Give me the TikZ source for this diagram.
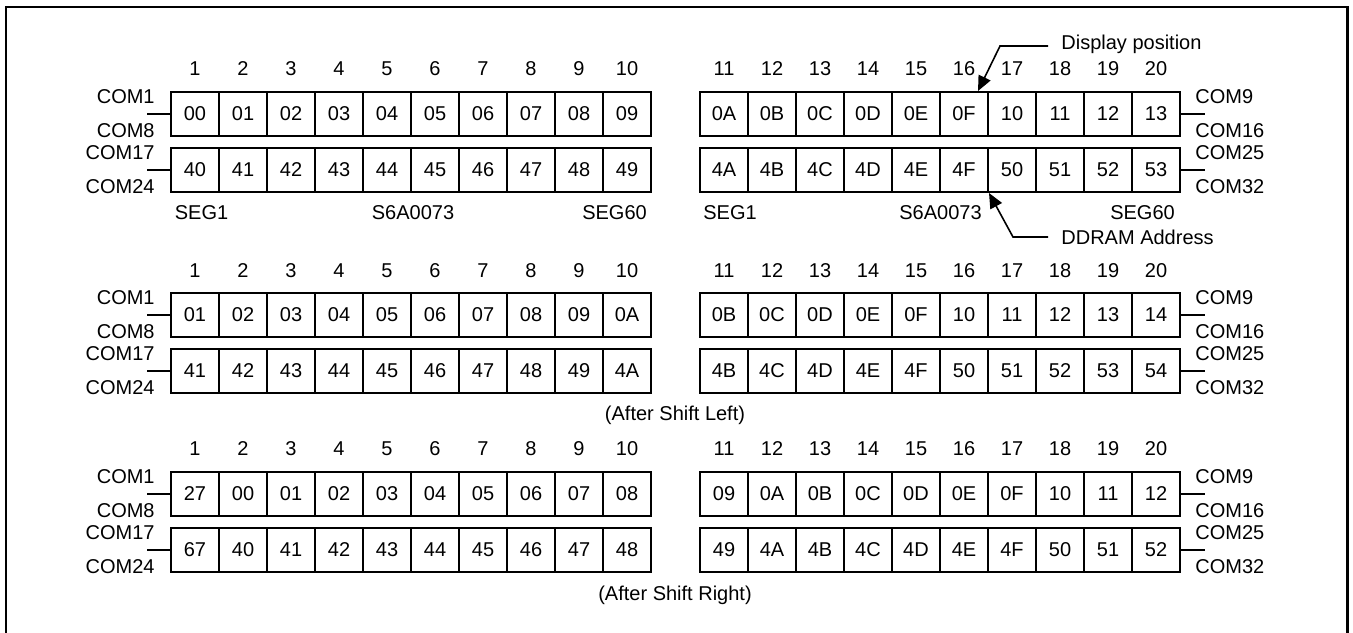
\documentclass[tikz,border=0pt]{standalone}
\usepackage{fontspec}
\setmainfont{Liberation Sans}
\usepackage{tikz}
\usetikzlibrary{arrows.meta,calc}

% one row of DDRAM cells: name, y, values, COM labels (top left, bottom left, top right, bottom right)
\newcommand{\ramrow}[7]{%
  \foreach \v [count=\c] in {#3} {
    \pgfmathsetmacro{\cx}{\c<11 ? 147+48*\c : 196+48*\c}
    \node[cell] (#1-\c) at (\cx,#2) {\v};
  }
  \coordinate (#1-l) at (147,#2);
  \coordinate (#1-r) at (1205,#2);
  \draw[stub] (#1-1.west) -- (#1-l);
  \draw[stub] (#1-20.east) -- (#1-r);
  \node[com, anchor=east] (#1-tl) at (155,#2-17) {#4};
  \node[com, anchor=east] (#1-bl) at (155,#2+16.5) {#5};
  \node[com, anchor=west] (#1-tr) at (1195,#2-17) {#6};
  \node[com, anchor=west] (#1-br) at (1195,#2+16.5) {#7};
}

\begin{document}
\begin{tikzpicture}[
    x=0.5pt, y=-0.5pt,
    every node/.append style={font=\fontsize{10pt}{12pt}\selectfont},
    cell/.style={rectangle, draw, line width=1pt, minimum width=24pt, minimum height=22pt, inner sep=0pt},
    stub/.style={line width=1.4pt},
    com/.style={inner sep=0pt},
    frame/.style={line width=1.2pt},
    callout/.style={anchor=west, inner xsep=6.5pt, text depth=0pt},
    ptr/.style={-{Triangle[length=7.5pt,width=6.5pt]}, line width=0.8pt}
  ]
    \useasboundingbox (0,0) rectangle (1353,632);
    \draw[frame] (6,640) -- (6,7) -- (1347.3,7) -- (1347.3,640);

    % column numbers
    \foreach \s/\yn in {1/69, 2/271, 3/449}
      \foreach \c in {1,...,20} {
        \pgfmathsetmacro{\cx}{\c<11 ? 147+48*\c : 196+48*\c}
        \node (num\s-\c) at (\cx,\yn) {\c};
      }

    % initial state
    \ramrow{s1a}{114}{00,01,02,03,04,05,06,07,08,09,0A,0B,0C,0D,0E,0F,10,11,12,13}{COM1}{COM8}{COM9}{COM16}
    \ramrow{s1b}{170}{40,41,42,43,44,45,46,47,48,49,4A,4B,4C,4D,4E,4F,50,51,52,53}{COM17}{COM24}{COM25}{COM32}

    \node (seg1l) at (201.5,213) {SEG1};
    \node (chipl) at (413,213) {S6A0073};
    \node (seg60l) at (614.5,213) {SEG60};
    \node (seg1r) at (730,213) {SEG1};
    \node (chipr) at (940.5,213) {S6A0073};
    \node (seg60r) at (1142.5,213) {SEG60};

    \node[callout] (dpos) at (1048,42) {Display position};
    \coordinate (dbend) at (1000,46);
    \draw[ptr] (dbend -| dpos.west) -- (dbend) -- ($(s1a-16.north east)+(-11,0)$);

    \node[callout] (ddram) at (1048,237) {DDRAM Address};
    \coordinate (abend) at (1013,237);
    \draw[ptr] (ddram.west) -- (abend) -- (s1b-16.south east);

    % after shift left
    \ramrow{s2a}{315}{01,02,03,04,05,06,07,08,09,0A,0B,0C,0D,0E,0F,10,11,12,13,14}{COM1}{COM8}{COM9}{COM16}
    \ramrow{s2b}{371}{41,42,43,44,45,46,47,48,49,4A,4B,4C,4D,4E,4F,50,51,52,53,54}{COM17}{COM24}{COM25}{COM32}
    \node (left) at (675,415) {(After Shift Left)};

    % after shift right
    \ramrow{s3a}{494}{27,00,01,02,03,04,05,06,07,08,09,0A,0B,0C,0D,0E,0F,10,11,12}{COM1}{COM8}{COM9}{COM16}
    \ramrow{s3b}{550}{67,40,41,42,43,44,45,46,47,48,49,4A,4B,4C,4D,4E,4F,50,51,52}{COM17}{COM24}{COM25}{COM32}
    \node (right) at (675,595) {(After Shift Right)};
\end{tikzpicture}
\end{document}
